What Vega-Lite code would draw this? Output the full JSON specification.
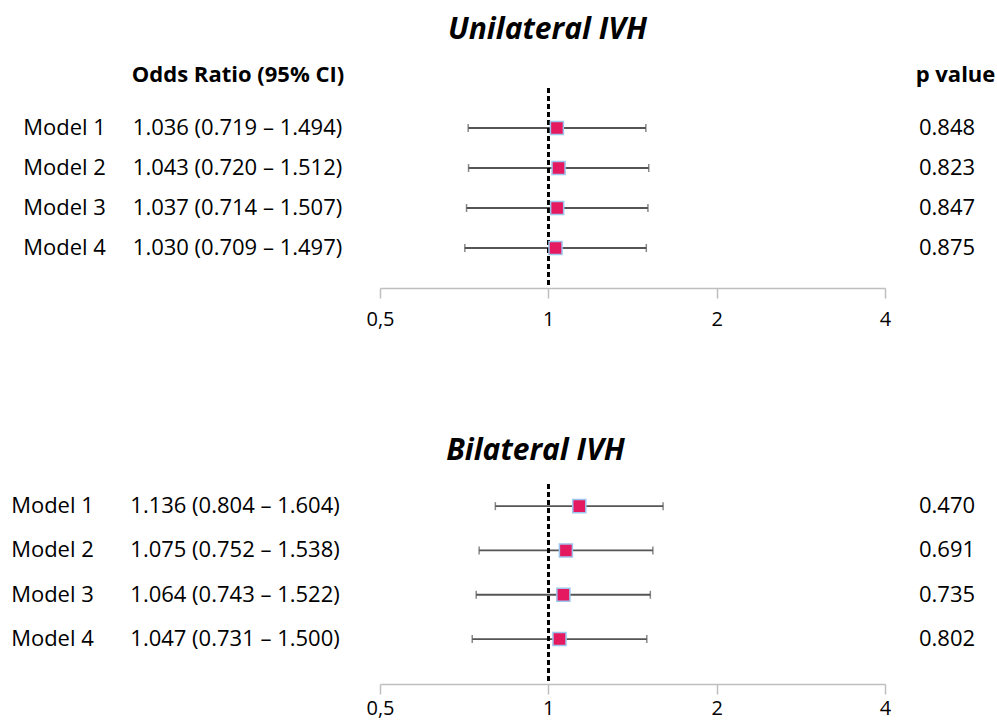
{
  "$schema": "https://vega.github.io/schema/vega-lite/v6.json",
  "padding": {"top": 14, "left": 0, "right": 0, "bottom": 10},
  "background": "white",
  "config": {"view": {"stroke": null}, "font": "Open Sans"},
  "datasets": {
    "uni": [
      {"model": "Model 1", "or": 1.036, "lo": 0.719, "hi": 1.494, "label": "1.036 (0.719 – 1.494)", "p": 0.848},
      {"model": "Model 2", "or": 1.043, "lo": 0.720, "hi": 1.512, "label": "1.043 (0.720 – 1.512)", "p": 0.823},
      {"model": "Model 3", "or": 1.037, "lo": 0.714, "hi": 1.507, "label": "1.037 (0.714 – 1.507)", "p": 0.847},
      {"model": "Model 4", "or": 1.030, "lo": 0.709, "hi": 1.497, "label": "1.030 (0.709 – 1.497)", "p": 0.875}
    ],
    "bi": [
      {"model": "Model 1", "or": 1.136, "lo": 0.804, "hi": 1.604, "label": "1.136 (0.804 – 1.604)", "p": 0.470},
      {"model": "Model 2", "or": 1.075, "lo": 0.752, "hi": 1.538, "label": "1.075 (0.752 – 1.538)", "p": 0.691},
      {"model": "Model 3", "or": 1.064, "lo": 0.743, "hi": 1.522, "label": "1.064 (0.743 – 1.522)", "p": 0.735},
      {"model": "Model 4", "or": 1.047, "lo": 0.731, "hi": 1.500, "label": "1.047 (0.731 – 1.500)", "p": 0.802}
    ]
  },
  "columns": 3,
  "spacing": {"row": 196, "column": 35},
  "bounds": "flush",
  "concat": [
    {
      "width": 345, "height": 200,
      "data": {"name": "uni"},
      "encoding": {
        "y": {"field": "model", "type": "ordinal", "scale": {"type": "point", "padding": 1.02, "align": 0.5, "domain": ["Model 1", "Model 2", "Model 3", "Model 4"]}, "axis": null}
      },
      "layer": [
        {
          "mark": {"type": "text", "font": "Open Sans", "fontSize": 22, "align": "center", "color": "black"},
          "encoding": {
            "x": {"datum": "model", "type": "nominal", "scale": {"type": "point", "domain": ["model", "label"], "padding": 0.497, "align": 0.375},
              "axis": {"orient": "top", "labelExpr": "datum.value == 'label' ? 'Odds Ratio (95% CI)' : ''", "ticks": false, "domain": false, "grid": false, "title": null, "labelFont": "Open Sans", "labelFontSize": 22, "labelFontWeight": "bold", "labelColor": "black", "labelPadding": 2, "labelAngle": 0, "labelLimit": 0}},
            "text": {"field": "model"}
          }
        },
        {
          "mark": {"type": "text", "font": "Open Sans", "fontSize": 22, "align": "center", "color": "black"},
          "encoding": {
            "x": {"datum": "label", "type": "nominal"},
            "text": {"field": "label"}
          }
        }
      ]
    },
    {
      "width": 505, "height": 200,
      "data": {"name": "uni"},
      "title": {"text": "Unilateral IVH", "font": "Open Sans", "fontSize": 30, "fontWeight": "bold", "fontStyle": "italic", "anchor": "middle", "dx": -85, "offset": 42, "color": "black"},
      "encoding": {
        "y": {"field": "model", "type": "ordinal", "scale": {"type": "point", "padding": 1.02, "align": 0.5, "domain": ["Model 1", "Model 2", "Model 3", "Model 4"]}, "axis": null}
      },
      "layer": [
        {
          "mark": {"type": "rule", "color": "#555555", "strokeWidth": 1.8},
          "encoding": {
            "x": {"field": "lo", "type": "quantitative", "scale": {"type": "log", "domain": [0.5, 4], "nice": false},
              "axis": {"values": [0.5, 1, 2, 4], "labelExpr": "replace(format(datum.value, '~g'), '.', ',')", "grid": false, "title": null, "domainColor": "#bfbfbf", "domainWidth": 1.5, "tickColor": "#bfbfbf", "tickWidth": 1.5, "tickSize": 10, "labelFont": "Open Sans", "labelFontSize": 20, "labelColor": "black", "labelPadding": 11, "labelFlush": false, "labelOverlap": false}},
            "x2": {"field": "hi"}
          }
        },
        {
          "mark": {"type": "tick", "orient": "vertical", "color": "#555555", "thickness": 1.5, "size": 8},
          "encoding": {"x": {"field": "lo", "type": "quantitative"}}
        },
        {
          "mark": {"type": "tick", "orient": "vertical", "color": "#555555", "thickness": 1.5, "size": 8},
          "encoding": {"x": {"field": "hi", "type": "quantitative"}}
        },
        {
          "mark": {"type": "rule", "color": "black", "strokeWidth": 2.5, "strokeDash": [5, 3]},
          "encoding": {"x": {"datum": 1, "type": "quantitative"}, "y": null}
        },
        {
          "mark": {"type": "square", "size": 170, "filled": true, "color": "#e5195f", "stroke": "#9ec5ee", "strokeWidth": 1.5, "opacity": 1},
          "encoding": {"x": {"field": "or", "type": "quantitative"}}
        }
      ]
    },
    {
      "width": 54, "height": 200,
      "data": {"name": "uni"},
      "mark": {"type": "text", "font": "Open Sans", "fontSize": 22, "align": "center", "color": "black"},
      "encoding": {
        "x": {"datum": "p value", "type": "nominal", "scale": {"type": "point", "domain": ["p value"]},
          "axis": {"orient": "top", "ticks": false, "domain": false, "grid": false, "title": null, "labelFont": "Open Sans", "labelFontSize": 22, "labelFontWeight": "bold", "labelColor": "black", "labelPadding": 2, "labelAngle": 0, "labelLimit": 0, "labelOffset": 8}},
        "y": {"field": "model", "type": "ordinal", "scale": {"type": "point", "padding": 1.02, "align": 0.5, "domain": ["Model 1", "Model 2", "Model 3", "Model 4"]}, "axis": null},
        "text": {"field": "p", "type": "quantitative", "format": ".3f"}
      }
    },
    {
      "width": 345, "height": 200,
      "data": {"name": "bi"},
      "encoding": {
        "y": {"field": "model", "type": "ordinal", "scale": {"type": "point", "padding": 0.757, "align": 0.33, "domain": ["Model 1", "Model 2", "Model 3", "Model 4"]}, "axis": null}
      },
      "layer": [
        {
          "mark": {"type": "text", "font": "Open Sans", "fontSize": 22, "align": "center", "color": "black"},
          "encoding": {
            "x": {"datum": "model", "type": "nominal", "scale": {"type": "point", "domain": ["model", "label"], "padding": 0.445, "align": 0.323}, "axis": null},
            "text": {"field": "model"}
          }
        },
        {
          "mark": {"type": "text", "font": "Open Sans", "fontSize": 22, "align": "center", "color": "black"},
          "encoding": {
            "x": {"datum": "label", "type": "nominal"},
            "text": {"field": "label"}
          }
        }
      ]
    },
    {
      "width": 505, "height": 200,
      "data": {"name": "bi"},
      "title": {"text": "Bilateral IVH", "font": "Open Sans", "fontSize": 30, "fontWeight": "bold", "fontStyle": "italic", "anchor": "middle", "dx": -97, "offset": 17, "color": "black"},
      "encoding": {
        "y": {"field": "model", "type": "ordinal", "scale": {"type": "point", "padding": 0.757, "align": 0.33, "domain": ["Model 1", "Model 2", "Model 3", "Model 4"]}, "axis": null}
      },
      "layer": [
        {
          "mark": {"type": "rule", "color": "#555555", "strokeWidth": 1.8},
          "encoding": {
            "x": {"field": "lo", "type": "quantitative", "scale": {"type": "log", "domain": [0.5, 4], "nice": false},
              "axis": {"values": [0.5, 1, 2, 4], "labelExpr": "replace(format(datum.value, '~g'), '.', ',')", "grid": false, "title": null, "domainColor": "#bfbfbf", "domainWidth": 1.5, "tickColor": "#bfbfbf", "tickWidth": 1.5, "tickSize": 10, "labelFont": "Open Sans", "labelFontSize": 20, "labelColor": "black", "labelPadding": 4, "labelFlush": false, "labelOverlap": false}},
            "x2": {"field": "hi"}
          }
        },
        {
          "mark": {"type": "tick", "orient": "vertical", "color": "#555555", "thickness": 1.5, "size": 8},
          "encoding": {"x": {"field": "lo", "type": "quantitative"}}
        },
        {
          "mark": {"type": "tick", "orient": "vertical", "color": "#555555", "thickness": 1.5, "size": 8},
          "encoding": {"x": {"field": "hi", "type": "quantitative"}}
        },
        {
          "mark": {"type": "rule", "color": "black", "strokeWidth": 2.5, "strokeDash": [5, 3]},
          "encoding": {"x": {"datum": 1, "type": "quantitative"}, "y": null}
        },
        {
          "mark": {"type": "square", "size": 170, "filled": true, "color": "#e5195f", "stroke": "#9ec5ee", "strokeWidth": 1.5, "opacity": 1},
          "encoding": {"x": {"field": "or", "type": "quantitative"}}
        }
      ]
    },
    {
      "width": 54, "height": 200,
      "data": {"name": "bi"},
      "mark": {"type": "text", "font": "Open Sans", "fontSize": 22, "align": "center", "color": "black"},
      "encoding": {
        "y": {"field": "model", "type": "ordinal", "scale": {"type": "point", "padding": 0.757, "align": 0.33, "domain": ["Model 1", "Model 2", "Model 3", "Model 4"]}, "axis": null},
        "text": {"field": "p", "type": "quantitative", "format": ".3f"}
      }
    }
  ]
}
